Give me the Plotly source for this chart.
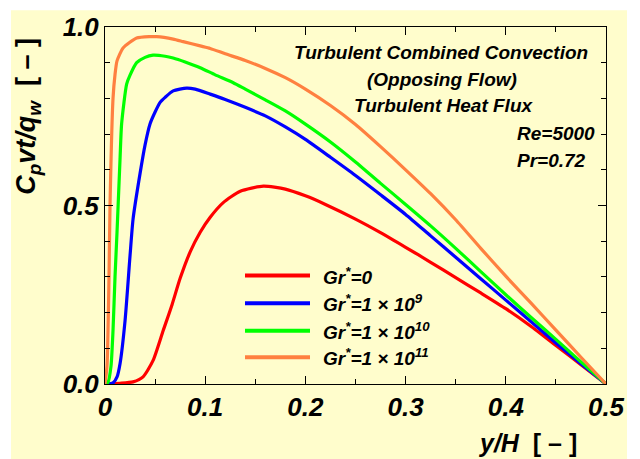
import plotly.graph_objects as go

# ---------------- data ----------------
x_gr0 = [0, 0.008, 0.015, 0.028, 0.038, 0.048, 0.058, 0.067, 0.075, 0.085, 0.095, 0.105, 0.118,
         0.135, 0.158, 0.18, 0.20, 0.22, 0.25, 0.275, 0.30, 0.325, 0.35, 0.375, 0.40, 0.425,
         0.45, 0.475, 0.50]
y_gr0 = [0, 0.001, 0.002, 0.006, 0.02, 0.066, 0.149, 0.223, 0.296, 0.37, 0.425, 0.467, 0.508,
         0.54, 0.554, 0.546, 0.527, 0.503, 0.462, 0.424, 0.383, 0.341, 0.298, 0.255, 0.211, 0.162,
         0.108, 0.054, 0.0]

x_gr9 = [0, 0.005, 0.008, 0.012, 0.015, 0.02, 0.025, 0.028, 0.035, 0.04, 0.045, 0.05, 0.055, 0.06,
         0.068, 0.0815, 0.09, 0.105, 0.12, 0.14, 0.16, 0.18, 0.20, 0.225, 0.25, 0.275, 0.30, 0.325,
         0.35, 0.375, 0.40, 0.425, 0.45, 0.475, 0.50]
y_gr9 = [0, 0.001, 0.003, 0.02, 0.057, 0.177, 0.36, 0.462, 0.59, 0.67, 0.729, 0.762, 0.789, 0.803,
         0.821, 0.829, 0.826, 0.812, 0.797, 0.775, 0.751, 0.72, 0.685, 0.635, 0.584, 0.53, 0.475, 0.415,
         0.355, 0.295, 0.235, 0.175, 0.115, 0.057, 0.0]

x_gr10 = [0, 0.003, 0.006, 0.008, 0.010, 0.012, 0.015, 0.0166, 0.0216, 0.025, 0.0316, 0.04, 0.048,
          0.06, 0.068, 0.08, 0.095, 0.11, 0.128, 0.14, 0.16, 0.18, 0.20, 0.225, 0.25, 0.275, 0.30,
          0.325, 0.35, 0.375, 0.40, 0.425, 0.45, 0.475, 0.50]
y_gr10 = [0, 0.005, 0.05, 0.15, 0.30, 0.425, 0.63, 0.729, 0.84, 0.865, 0.90, 0.915, 0.921,
          0.918, 0.913, 0.902, 0.886, 0.866, 0.844, 0.826, 0.796, 0.765, 0.728, 0.678, 0.622, 0.562,
          0.503, 0.443, 0.38, 0.315, 0.25, 0.187, 0.125, 0.062, 0.0]

x_gr11 = [0, 0.002, 0.004, 0.005, 0.008, 0.010, 0.012, 0.018, 0.0316, 0.045, 0.0516, 0.068, 0.078,
          0.095, 0.105, 0.12, 0.14, 0.16, 0.18, 0.20, 0.225, 0.25, 0.275, 0.30, 0.325, 0.35, 0.375,
          0.40, 0.425, 0.45, 0.475, 0.50]
y_gr11 = [0, 0.05, 0.3, 0.5, 0.8, 0.867, 0.905, 0.941, 0.969, 0.973, 0.973, 0.966, 0.959,
          0.947, 0.940, 0.925, 0.906, 0.884, 0.858, 0.826, 0.78, 0.727, 0.665, 0.6, 0.533, 0.46, 0.38,
          0.302, 0.227, 0.151, 0.075, 0.0]

series_names = ["Gr<sup>*</sup>=0", "Gr<sup>*</sup>=1 × 10<sup>9</sup>",
                "Gr<sup>*</sup>=1 × 10<sup>10</sup>", "Gr<sup>*</sup>=1 × 10<sup>11</sup>"]
series_colors = ["#FF0000", "#0000FF", "#00FF00", "#FF8040"]

x_ticks = [0, 0.1, 0.2, 0.3, 0.4, 0.5]
y_ticks = [0.0, 0.5, 1.0]

# ---------------- figure ----------------
FONT = "Liberation Sans, Arial, sans-serif"
BG = "#FFFDCC"

fig = go.Figure()
for xs, ys, name, col in zip([x_gr0, x_gr9, x_gr10, x_gr11],
                             [y_gr0, y_gr9, y_gr10, y_gr11], series_names, series_colors):
    fig.add_trace(go.Scatter(x=xs, y=ys, mode="lines", name=name,
                             line=dict(color=col, width=3.2, shape="spline", smoothing=0.6),
                             showlegend=False))

W, H = 640, 459
ml, mr, mt, mb = 105, 34, 22, 75
pw, ph = W - ml - mr, H - mt - mb


def px2paper(xp, yp):
    return (xp - ml) / pw, (H - mb - yp) / ph


shapes = []
# yellow background panel
bx0, by1 = px2paper(11, 5)
bx1, by0 = px2paper(627, 470)
shapes.append(dict(type="rect", xref="paper", yref="paper", x0=bx0, x1=bx1, y0=by0, y1=by1,
                   fillcolor=BG, line=dict(width=0), layer="below"))

annotations = []
# legend (custom)
leg_y = [274, 302, 330, 357]
for yp, name, col in zip(leg_y, series_names, series_colors):
    lx0, ly = px2paper(245, yp)
    lx1, _ = px2paper(310, yp)
    shapes.append(dict(type="line", xref="paper", yref="paper", x0=lx0, x1=lx1, y0=ly, y1=ly,
                       line=dict(color=col, width=4)))
    tx, _ = px2paper(321, yp)
    annotations.append(dict(xref="paper", yref="paper", x=tx, y=ly, xanchor="left", yanchor="middle",
                            text="<b><i>" + name + "</i></b>", showarrow=False,
                            font=dict(family=FONT, size=19, color="black")))

# text block
txt_lines = [("Turbulent Combined Convection", 441, 48, "center"),
             ("(Opposing Flow)", 442, 75, "center"),
             ("Turbulent Heat Flux", 443, 102, "center"),
             ("Re=5000", 597, 130, "right"),
             ("Pr=0.72", 588, 157, "right")]
for t, xp, yp, anc in txt_lines:
    ax, ay = px2paper(xp, yp)
    annotations.append(dict(xref="paper", yref="paper", x=ax, y=ay, xanchor=anc, yanchor="middle",
                            text="<b><i>" + t + "</i></b>", showarrow=False,
                            font=dict(family=FONT, size=19, color="black")))

# axis titles
yx, yy = px2paper(28, 113)
annotations.append(dict(xref="paper", yref="paper", x=yx, y=yy, xanchor="center", yanchor="middle",
                        textangle=-90, showarrow=False,
                        text="<b><i>C<sub>p</sub>vt/q<sub>w</sub></i>  [ – ]</b>",
                        font=dict(family=FONT, size=27, color="black")))
xx, xy = px2paper(527, 444)
annotations.append(dict(xref="paper", yref="paper", x=xx, y=xy, xanchor="center", yanchor="middle",
                        showarrow=False, text="<b><i>y/H</i>  [ – ]</b>",
                        font=dict(family=FONT, size=25, color="black")))

tickfont = dict(family=FONT, size=26, color="black", weight="bold", style="italic")

fig.update_layout(
    width=W, height=H,
    margin=dict(l=ml, r=mr, t=mt, b=mb, pad=0),
    paper_bgcolor="white", plot_bgcolor=BG,
    shapes=shapes, annotations=annotations,
    xaxis=dict(range=[0, 0.5], tickvals=x_ticks, ticktext=[str(v) if v else "0" for v in x_ticks],
               ticks="inside", ticklen=8, tickwidth=1, tickcolor="black",
               minor=dict(dtick=0.05, tick0=0, ticks="inside", ticklen=5, tickcolor="black", showgrid=False),
               showline=True, linecolor="black", linewidth=1, mirror="allticks",
               showgrid=False, zeroline=False, tickfont=tickfont),
    yaxis=dict(range=[0, 1.0], tickvals=y_ticks, tickformat=".1f",
               ticks="inside", ticklen=8, tickwidth=1, tickcolor="black",
               minor=dict(dtick=0.1, tick0=0, ticks="inside", ticklen=5, tickcolor="black", showgrid=False),
               showline=True, linecolor="black", linewidth=1, mirror="allticks",
               showgrid=False, zeroline=False, tickfont=tickfont),
)

fig.write_html("out.html")
